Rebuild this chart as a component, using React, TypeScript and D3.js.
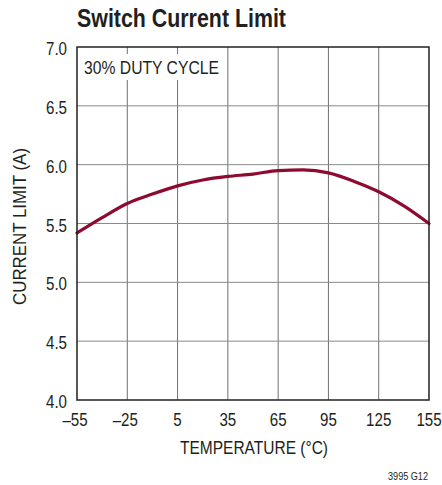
import React from "react";
import * as d3 from "d3";

const temps = [-55, -40, -25, -10, 5, 20, 35, 50, 65, 80, 95, 110, 125, 140, 155];
const currentLimit = [5.42, 5.55, 5.67, 5.75, 5.82, 5.87, 5.9, 5.92, 5.95, 5.955, 5.93, 5.86, 5.77, 5.65, 5.5];
const xTicks = [-55, -25, 5, 35, 65, 95, 125, 155];
const yTicks = [4.0, 4.5, 5.0, 5.5, 6.0, 6.5, 7.0];

const W = 442;
const H = 485;
const M = { left: 77, right: 429, top: 47, bottom: 400 };
const FONT = "'Liberation Sans', Arial, sans-serif";
const INK = "#231f20";

function NText(props: {
  x: number;
  y: number;
  size: number;
  anchor?: "start" | "middle" | "end";
  sx?: number;
  bold?: boolean;
  children: React.ReactNode;
}) {
  const sx = props.sx ?? 0.84;
  return (
    <text
      transform={`translate(${props.x},${props.y}) scale(${sx},1)`}
      fontSize={props.size}
      textAnchor={props.anchor ?? "start"}
      fontWeight={props.bold ? "bold" : "normal"}
      fill={INK}
    >
      {props.children}
    </text>
  );
}

export default function App() {
  const x = d3.scaleLinear().domain([-55, 155]).range([M.left, M.right]);
  const y = d3.scaleLinear().domain([4, 7]).range([M.bottom, M.top]);
  const line = d3
    .line<number>()
    .x((_, i) => x(temps[i]))
    .y((d) => y(d))
    .curve(d3.curveMonotoneX);
  const path = line(currentLimit) || "";

  return (
    <svg
      width={W}
      height={H}
      style={{ position: "absolute", left: 0, top: 0, background: "#fff" }}
      fontFamily={FONT}
    >
      <rect x={0} y={0} width={W} height={H} fill="#fff" />
      <text
        x={77}
        y={27}
        fontSize={25}
        fontWeight="bold"
        fill={INK}
        textLength={209}
        lengthAdjust="spacingAndGlyphs"
      >
        Switch Current Limit
      </text>
      {/* grid */}
      {xTicks.slice(1, -1).map((t) => (
        <line key={"gx" + t} x1={x(t)} x2={x(t)} y1={M.top} y2={M.bottom} stroke="#707070" strokeWidth={1} />
      ))}
      {yTicks.slice(1, -1).map((t) => (
        <line key={"gy" + t} x1={M.left} x2={M.right} y1={y(t)} y2={y(t)} stroke="#8a8a8a" strokeWidth={1} />
      ))}
      {/* label box */}
      <rect x={M.left + 1} y={54} width={144} height={26} fill="#fff" />
      <text x={84} y={73.5} fontSize={18} fill={INK} textLength={135} lengthAdjust="spacingAndGlyphs">
        30% DUTY CYCLE
      </text>
      {/* curve */}
      <path d={path} fill="none" stroke="#8e0a30" strokeWidth={3.2} strokeLinecap="round" />
      {/* frame */}
      <rect
        x={M.left}
        y={M.top}
        width={M.right - M.left}
        height={M.bottom - M.top}
        fill="none"
        stroke={INK}
        strokeWidth={1.5}
      />
      {/* y ticks */}
      {yTicks.map((t) => (
        <NText key={"yt" + t} x={67} y={y(t) + 8} size={18} anchor="end">
          {t.toFixed(1)}
        </NText>
      ))}
      {/* x ticks */}
      {xTicks.map((t) => (
        <NText key={"xt" + t} x={x(t) - (t < 0 ? 2 : 0)} y={426} size={18} anchor="middle">
          {t < 0 ? "\u2013" + Math.abs(t) : String(t)}
        </NText>
      ))}
      <text
        x={180}
        y={454}
        fontSize={18}
        fill={INK}
        textLength={148}
        lengthAdjust="spacingAndGlyphs"
      >
        TEMPERATURE (°C)
      </text>
      <text
        transform={`translate(26, 305) rotate(-90)`}
        fontSize={18}
        fill={INK}
        textLength={157}
        lengthAdjust="spacingAndGlyphs"
      >
        CURRENT LIMIT (A)
      </text>
      <text x={388} y={480} fontSize={11} fill={INK} textLength={40} lengthAdjust="spacingAndGlyphs">
        3995 G12
      </text>
    </svg>
  );
}
